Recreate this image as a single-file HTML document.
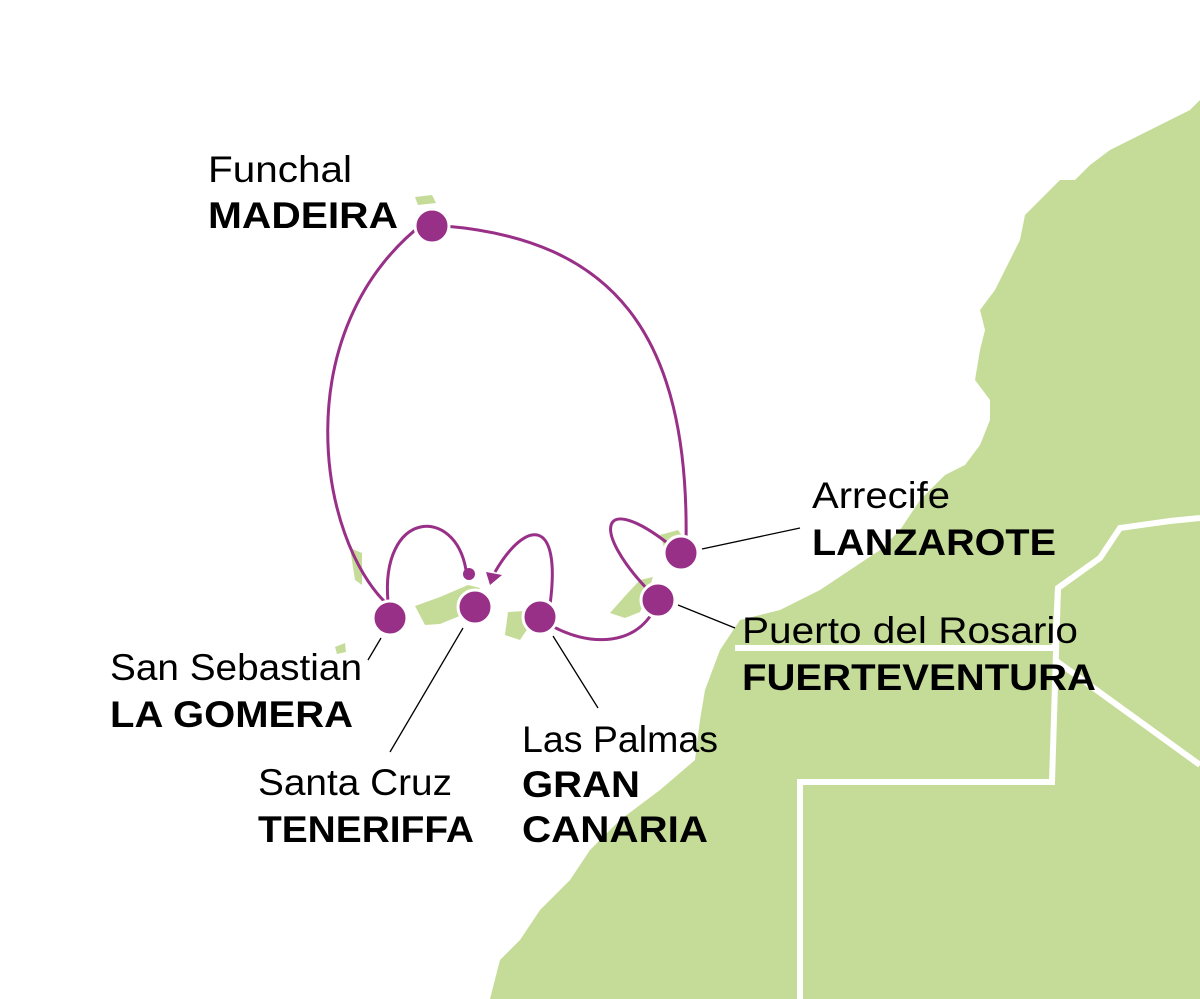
<!DOCTYPE html>
<html><head><meta charset="utf-8"><style>html,body{margin:0;padding:0;background:#fff}svg{display:block}</style></head>
<body>
<svg width="1200" height="999" viewBox="0 0 1200 999" xmlns="http://www.w3.org/2000/svg">
<polygon fill="#c5dc98" points="1200,100 1190,110 1160,125 1130,140 1110,150 1090,165 1075,180 1060,180 1040,200 1025,215 1020,240 1005,270 995,290 980,310 985,330 980,350 975,380 990,400 990,420 980,445 965,465 945,475 920,500 900,530 880,550 850,570 820,590 780,610 740,620 720,650 705,690 700,720 695,760 660,790 620,820 590,850 570,880 540,910 520,940 500,960 490,999 1200,999"/>
<g fill="none" stroke="#fff" stroke-width="6">
<polyline points="1200,518 1170,521 1120,528 1100,558 1058,588 1055,648 735,648"/>
<polyline points="1058,588 1052,782 800,782 800,999"/>
<polyline points="1055,660 1200,765"/>
</g>
<g fill="#c5dc98">
<polygon points="415,197 432,195 436,203 418,205"/>
<polygon points="350,548 362,553 362,585 355,580"/>
<polygon points="335,647 345,643 346,652 337,654"/>
<polygon points="415,606 440,597 468,585 480,588 470,600 462,615 440,624 425,625"/>
<polygon points="508,612 525,611 530,625 520,640 505,635"/>
<polygon points="610,613 625,596 640,580 653,577 645,600 640,612 625,618"/>
<polygon points="660,535 678,530 685,540 665,550"/>
</g>
<g fill="none" stroke="#993088" stroke-width="3">
<path d="M388,605 C 318,540 285,330 425,222"/>
<path d="M445,226 C 610,240 690,330 686,545"/>
<path d="M388,602 C 380,510 455,505 466,570"/>
<path d="M550,605 C 562,515 525,520 495,572"/>
<path d="M545,622 C 590,650 640,645 656,605"/>
<path d="M650,592 C 590,530 600,490 670,545"/>
</g>
<polygon fill="#993088" points="486,572 502,575 490,585"/>
<g fill="#993088" stroke="#fff" stroke-width="3">
<circle cx="432" cy="226" r="17"/>
<circle cx="390" cy="618" r="17"/>
<circle cx="475" cy="607" r="17"/>
<circle cx="540" cy="617" r="17"/>
<circle cx="658" cy="600" r="17"/>
<circle cx="681" cy="553" r="17"/>
</g>
<circle cx="469" cy="574" r="6" fill="#993088"/>
<g stroke="#000" stroke-width="1.3">
<line x1="702" y1="549" x2="800" y2="528"/>
<line x1="678" y1="605" x2="735" y2="628"/>
<line x1="381" y1="638" x2="368" y2="660"/>
<line x1="463" y1="628" x2="390" y2="752"/>
<line x1="553" y1="636" x2="598" y2="708"/>
</g>
<g font-family="Liberation Sans, sans-serif" font-size="37" fill="#000">
<text x="208" y="182" textLength="144" lengthAdjust="spacingAndGlyphs">Funchal</text>
<text x="208" y="228" font-weight="bold" textLength="190" lengthAdjust="spacingAndGlyphs">MADEIRA</text>
<text x="812" y="508" textLength="138" lengthAdjust="spacingAndGlyphs">Arrecife</text>
<text x="812" y="555" font-weight="bold" textLength="244" lengthAdjust="spacingAndGlyphs">LANZAROTE</text>
<text x="742" y="643" textLength="336" lengthAdjust="spacingAndGlyphs">Puerto del Rosario</text>
<text x="742" y="690" font-weight="bold" textLength="354" lengthAdjust="spacingAndGlyphs">FUERTEVENTURA</text>
<text x="110" y="680" textLength="252" lengthAdjust="spacingAndGlyphs">San Sebastian</text>
<text x="110" y="727" font-weight="bold" textLength="243" lengthAdjust="spacingAndGlyphs">LA GOMERA</text>
<text x="258" y="795" textLength="194" lengthAdjust="spacingAndGlyphs">Santa Cruz</text>
<text x="258" y="842" font-weight="bold" textLength="216" lengthAdjust="spacingAndGlyphs">TENERIFFA</text>
<text x="522" y="752" textLength="196" lengthAdjust="spacingAndGlyphs">Las Palmas</text>
<text x="522" y="797" font-weight="bold" textLength="118" lengthAdjust="spacingAndGlyphs">GRAN</text>
<text x="522" y="842" font-weight="bold" textLength="186" lengthAdjust="spacingAndGlyphs">CANARIA</text>
</g>
</svg>
</body></html>
